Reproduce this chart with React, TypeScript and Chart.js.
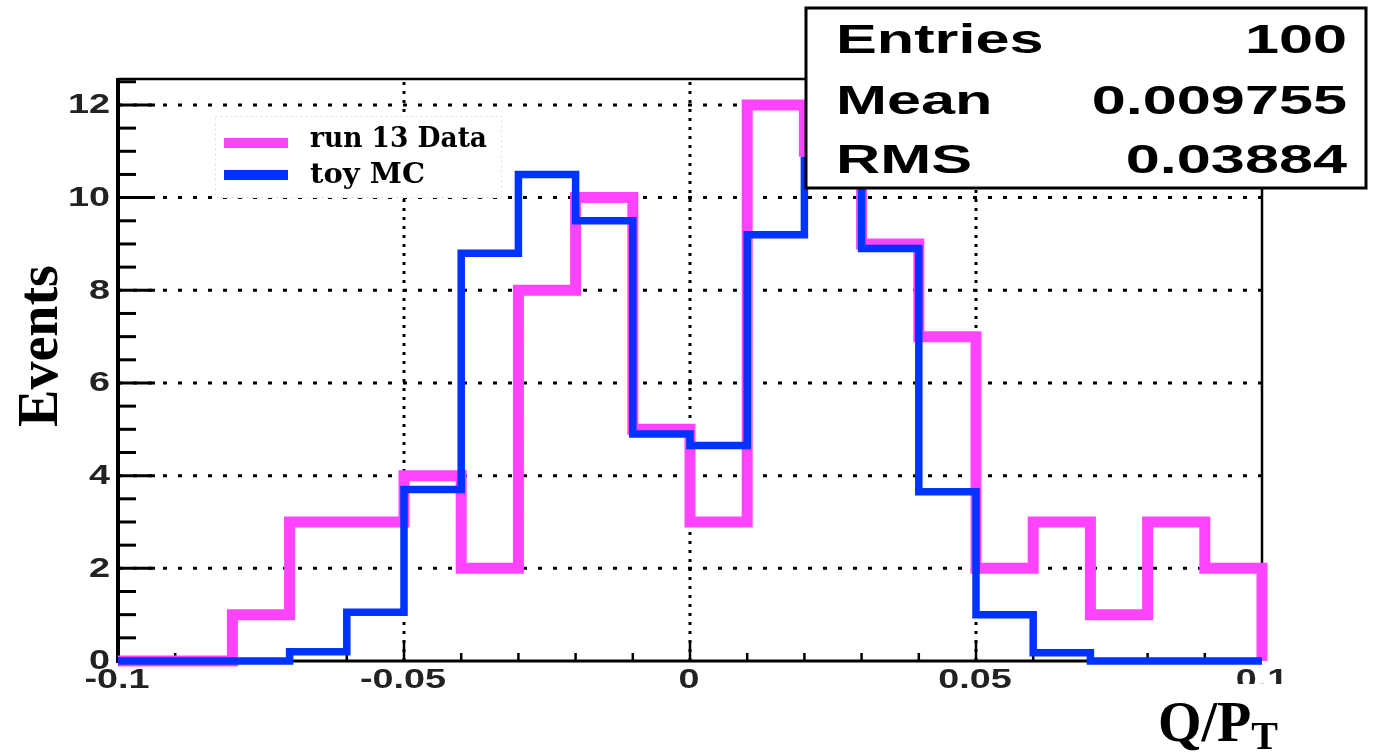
import React, { useEffect, useRef } from "react";
import { Chart, registerables } from "chart.js";

Chart.register(...registerables);

// ---- data ----
const binLowEdges = [-0.1, -0.09, -0.08, -0.07, -0.06, -0.05, -0.04, -0.03, -0.02, -0.01, 0, 0.01, 0.02, 0.03, 0.04, 0.05, 0.06, 0.07, 0.08, 0.09];
const binHighEdge = 0.1;
const run13Data = [0, 0, 1, 3, 3, 4, 2, 8, 10, 5, 3, 12, 11, 9, 7, 2, 3, 1, 3, 2];
const toyMC = [0, 0, 0, 0.2, 1.05, 3.7, 8.8, 10.5, 9.5, 4.9, 4.65, 9.2, 10.8, 8.9, 3.65, 1.0, 0.18, 0, 0, 0];
const seriesNames = ["run 13 Data", "toy MC"];
const seriesColors = ["#ff44ff", "#0033ff"];
const xTickValues = [-0.1, -0.05, 0, 0.05, 0.1];
const xTickLabels = ["-0.1", "-0.05", "0", "0.05", "0.1"];
const yTickValues = [0, 2, 4, 6, 8, 10, 12];
const yTickLabels = ["0", "2", "4", "6", "8", "10", "12"];
const statsLabels = ["Entries", "Mean", "RMS"];
const statsValues = ["100", "0.009755", "0.03884"];
const xTitle = "Q/P";
const xTitleSub = "T";
const yTitle = "Events";

const X_MIN = -0.1;
const X_MAX = 0.1;
const Y_MIN = 0;
const Y_MAX = 12.56;

function histPoints(values: number[]) {
  const pts = binLowEdges.map((x, i) => ({ x, y: values[i] }));
  pts.push({ x: binHighEdge, y: values[values.length - 1] });
  pts.push({ x: binHighEdge, y: 0 });
  return pts;
}

function stretchText(ctx: CanvasRenderingContext2D, text: string, x: number, y: number, sx: number, align: CanvasTextAlign) {
  ctx.save();
  ctx.translate(x, y);
  ctx.scale(sx, 1);
  ctx.textAlign = align;
  ctx.fillText(text, 0, 0);
  ctx.restore();
}

function seg(ctx: CanvasRenderingContext2D, x1: number, y1: number, x2: number, y2: number) {
  ctx.beginPath();
  ctx.moveTo(x1, y1);
  ctx.lineTo(x2, y2);
  ctx.stroke();
}

const rootDecor = {
  id: "rootDecor",
  beforeDatasetsDraw(chart: any) {
    const { ctx, chartArea: a, scales } = chart;
    const xs = scales.x;
    const ys = scales.y;
    ctx.save();
    ctx.strokeStyle = "#000";
    ctx.lineCap = "butt";
    // dotted grid (horizontal)
    ctx.lineWidth = 3;
    ctx.setLineDash([4, 11]);
    yTickValues.forEach((v) => {
      if (v <= Y_MIN) return;
      const py = ys.getPixelForValue(v);
      seg(ctx, a.left, py, a.right, py);
    });
    // dotted grid (vertical)
    ctx.setLineDash([3, 6]);
    xTickValues.forEach((v) => {
      if (v <= X_MIN || v >= X_MAX) return;
      const px = xs.getPixelForValue(v);
      seg(ctx, px, a.bottom, px, a.top);
    });
    ctx.setLineDash([]);

    // frame
    ctx.lineWidth = 2.5;
    seg(ctx, a.left, a.top, a.right, a.top);
    seg(ctx, a.right, a.top, a.right, a.bottom);
    ctx.lineWidth = 4;
    seg(ctx, a.left, a.top - 1, a.left, a.bottom + 2);
    ctx.lineWidth = 3;
    seg(ctx, a.left, a.bottom, a.right, a.bottom);

    // y ticks
    ctx.lineWidth = 3;
    for (let k = 0; k <= 25; k++) {
      const v = k * 0.5;
      if (v > Y_MAX) break;
      const py = ys.getPixelForValue(v);
      const len = k % 4 === 0 ? 37 : 18;
      seg(ctx, a.left, py, a.left + len, py);
    }
    // x ticks
    ctx.lineWidth = 2.5;
    for (let k = 0; k <= 20; k++) {
      const v = X_MIN + k * 0.01;
      const px = xs.getPixelForValue(v);
      const len = k % 5 === 0 ? 20 : 8;
      seg(ctx, px, a.bottom, px, a.bottom - len);
    }

    // tick labels
    ctx.fillStyle = "#222";
    ctx.font = "bold 27px 'Liberation Sans', Arial, sans-serif";
    ctx.textBaseline = "middle";
    yTickValues.forEach((v, i) => {
      const py = ys.getPixelForValue(v);
      stretchText(ctx, yTickLabels[i], a.left - 8, py + 1, 1.4, "right");
    });
    ctx.textBaseline = "alphabetic";
    xTickValues.forEach((v, i) => {
      const px = xs.getPixelForValue(v);
      if (i === xTickValues.length - 1) {
        ctx.save();
        ctx.beginPath();
        ctx.rect(0, 0, 1287, a.bottom + 23);
        ctx.clip();
        stretchText(ctx, xTickLabels[i], px, a.bottom + 27, 1.4, "center");
        ctx.restore();
      } else {
        stretchText(ctx, xTickLabels[i], px - 1, a.bottom + 27, 1.4, "center");
      }
    });
    ctx.restore();
  },
  afterDraw(chart: any) {
    const { ctx } = chart;
    ctx.save();
    // legend box
    ctx.fillStyle = "#fff";
    ctx.fillRect(215, 116, 287, 82);
    ctx.strokeStyle = "#dddddd";
    ctx.lineWidth = 1;
    ctx.setLineDash([2, 3]);
    ctx.strokeRect(215.5, 116.5, 286, 81);
    ctx.setLineDash([]);
    const rowsY = [143, 175];
    const textBase = [147, 183];
    const targetW = [177, 115];
    seriesNames.forEach((name, i) => {
      ctx.strokeStyle = seriesColors[i];
      ctx.lineWidth = 10;
      seg(ctx, 224, rowsY[i], 288, rowsY[i]);
      ctx.fillStyle = "#000";
      ctx.font = "bold 27px 'DejaVu Serif', 'Liberation Serif', serif";
      ctx.textBaseline = "alphabetic";
      const w = ctx.measureText(name).width;
      stretchText(ctx, name, 310, textBase[i], targetW[i] / w, "left");
    });

    // stats box
    ctx.fillStyle = "#fff";
    ctx.fillRect(806, 8, 560, 180);
    ctx.strokeStyle = "#000";
    ctx.lineWidth = 3;
    ctx.strokeRect(806, 8, 560, 180);
    ctx.fillStyle = "#000";
    ctx.font = "bold 40px 'Liberation Sans', Arial, sans-serif";
    ctx.textBaseline = "alphabetic";
    const statBase = [53, 114, 173];
    statsLabels.forEach((lab, i) => {
      stretchText(ctx, lab, 836, statBase[i], 1.53, "left");
      stretchText(ctx, statsValues[i], 1347, statBase[i], 1.53, "right");
    });

    // axis titles
    ctx.fillStyle = "#000";
    ctx.font = "bold 56px 'Liberation Serif', 'Times New Roman', serif";
    ctx.save();
    ctx.translate(57, 346);
    ctx.rotate(-Math.PI / 2);
    ctx.textAlign = "center";
    ctx.fillText(yTitle, 0, 0);
    ctx.restore();

    ctx.textAlign = "left";
    ctx.fillText(xTitle, 1158, 741);
    const w = ctx.measureText(xTitle).width;
    ctx.font = "bold 40px 'Liberation Serif', 'Times New Roman', serif";
    ctx.fillText(xTitleSub, 1158 + w, 749);
    ctx.restore();
  },
};

export default function App() {
  const canvasRef = useRef<HTMLCanvasElement | null>(null);

  useEffect(() => {
    const canvas = canvasRef.current;
    if (!canvas) return;
    const chart = new Chart(canvas, {
      type: "line",
      data: {
        datasets: [
          {
            label: seriesNames[1],
            data: histPoints(toyMC),
            borderColor: seriesColors[1],
            borderWidth: 7.5,
            stepped: "before",
            pointRadius: 0,
            fill: false,
            tension: 0,
            borderJoinStyle: "miter",
            borderCapStyle: "butt",
            clip: 12,
            order: 0,
          },
          {
            label: seriesNames[0],
            data: histPoints(run13Data),
            borderColor: seriesColors[0],
            borderWidth: 11,
            stepped: "before",
            pointRadius: 0,
            fill: false,
            tension: 0,
            borderJoinStyle: "miter",
            borderCapStyle: "butt",
            clip: 12,
            order: 1,
          },
        ],
      } as any,
      options: {
        responsive: false,
        maintainAspectRatio: false,
        animation: false,
        parsing: false,
        normalized: true,
        layout: { padding: { left: 118, right: 1394 - 1262, top: 79, bottom: 755 - 661 } },
        scales: {
          x: { type: "linear", min: X_MIN, max: X_MAX, display: false },
          y: { type: "linear", min: Y_MIN, max: Y_MAX, display: false },
        },
        plugins: {
          legend: { display: false },
          tooltip: { enabled: false },
          title: { display: false },
        },
        events: [],
      } as any,
      plugins: [rootDecor],
    });
    return () => chart.destroy();
  }, []);

  return (
    <div style={{ position: "absolute", left: 0, top: 0, width: 1394, height: 755, background: "#fff" }}>
      <canvas ref={canvasRef} width={1394} height={755} style={{ display: "block" }} />
    </div>
  );
}
